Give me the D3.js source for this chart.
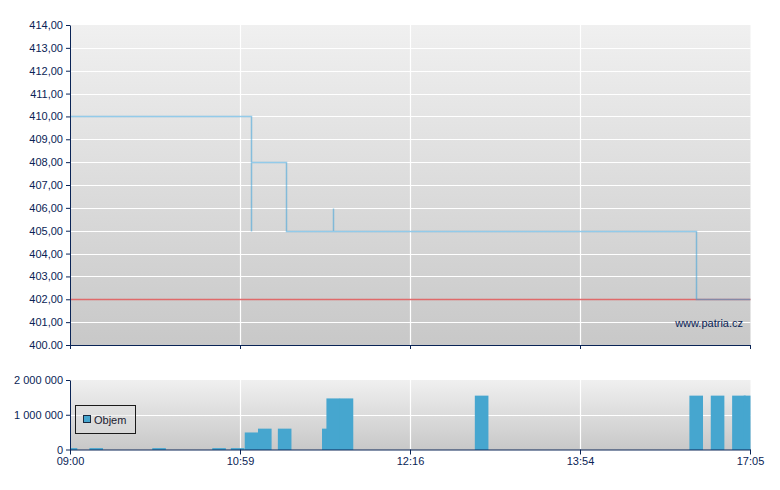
<!DOCTYPE html>
<html><head><meta charset="utf-8">
<script src="https://cdn.jsdelivr.net/npm/d3@7"></script>
<style>
body{margin:0;background:#fff;}
svg{display:block;font-family:"Liberation Sans",Arial,sans-serif;}
</style>
</head><body>
<svg id="chart" width="780" height="490"></svg>
<script>
// ---- data ----
const timeTicks = ["09:00", "10:59", "12:16", "13:54", "17:05"];
const priceTicks = [400, 401, 402, 403, 404, 405, 406, 407, 408, 409, 410, 411, 412, 413, 414];
const priceTickLabels = ["400.00", "401,00", "402,00", "403,00", "404,00", "405,00", "406,00", "407,00",
  "408,00", "409,00", "410,00", "411,00", "412,00", "413,00", "414,00"];
const priceTimes = ["09:00", "11:04", "11:04", "11:20", "11:41", "11:41", "16:04", "17:05"];
const priceValues = [410, 405, 408, 405, 406, 405, 402, 402];
const prevClose = 402;
const volumeTimes = ["09:00", "09:18", "10:02", "10:44", "10:57", "11:04", "11:10", "11:19", "11:39", "11:41",
  "11:47", "12:57", "16:04", "16:28", "16:52", "17:05"];
const volumeValues = [40000, 40000, 40000, 40000, 40000, 490000, 600000, 600000, 600000, 1470000,
  1470000, 1550000, 1550000, 1550000, 1550000, 1550000];
const volumeTicks = [0, 1000000, 2000000];
const volumeTickLabels = ["0", "1 000 000", "2 000 000"];
const legendLabel = "Objem";
const watermark = "www.patria.cz";

// ---- layout ----
const navy = "#0a2456";
const left = 70, right = 750;
const top1 = 25, bot1 = 345;
const top2 = 380, bot2 = 449.5;
const barColor = "#46a6cf";

const toMin = s => (+s.slice(0, 2)) * 60 + (+s.slice(3, 5));
const svg = d3.select("#chart");

const x = d3.scaleLinear()
  .domain(timeTicks.map(toMin))
  .range(timeTicks.map((d, i) => left + i * (right - left) / (timeTicks.length - 1)));
const yP = d3.scaleLinear().domain([400, 414]).range([bot1, top1]);
const yV = d3.scaleLinear().domain([0, 2000000]).range([bot2, top2]);

// gradients
const defs = svg.append("defs");
function grad(id) {
  const g = defs.append("linearGradient").attr("id", id).attr("x1", 0).attr("y1", 0).attr("x2", 0).attr("y2", 1);
  g.append("stop").attr("offset", "0%").attr("stop-color", "#f0f0f0");
  g.append("stop").attr("offset", "100%").attr("stop-color", "#c8c8c8");
}
grad("g1"); grad("g2");
defs.append("clipPath").attr("id", "clip1").append("rect")
  .attr("x", left + 0.5).attr("y", top1).attr("width", right - left).attr("height", bot1 - top1 + 1);
defs.append("clipPath").attr("id", "clip2").append("rect")
  .attr("x", left + 0.5).attr("y", top2).attr("width", right - left).attr("height", bot2 - top2 + 1);

// backgrounds
svg.append("rect").attr("x", left).attr("y", top1).attr("width", right - left + 0.5).attr("height", bot1 - top1 + 0.5).attr("fill", "url(#g1)");
svg.append("rect").attr("x", left).attr("y", top2).attr("width", right - left + 0.5).attr("height", bot2 - top2 + 0.5).attr("fill", "url(#g2)");

// grid lines
const grid = svg.append("g").attr("stroke", "#ffffff").attr("stroke-width", 1.2);
priceTicks.filter(v => v > 400 && v < 414 && v !== prevClose).forEach(v => {
  grid.append("line").attr("x1", left).attr("x2", right + 0.5)
    .attr("y1", Math.round(yP(v)) + 0.5).attr("y2", Math.round(yP(v)) + 0.5);
});
volumeTicks.filter(v => v > 0 && v < 2000000).forEach(v => {
  grid.append("line").attr("x1", left).attr("x2", right + 0.5)
    .attr("y1", Math.round(yV(v)) + 0.5).attr("y2", Math.round(yV(v)) + 0.5);
});
timeTicks.slice(1, -1).forEach(t => {
  const xx = x(toMin(t)) + 0.5;
  grid.append("line").attr("x1", xx).attr("x2", xx).attr("y1", top1).attr("y2", bot1);
  grid.append("line").attr("x1", xx).attr("x2", xx).attr("y1", top2).attr("y2", bot2);
});

// previous close reference
svg.append("line").attr("x1", left).attr("x2", right + 0.5)
  .attr("y1", Math.round(yP(prevClose)) + 0.5).attr("y2", Math.round(yP(prevClose)) + 0.5)
  .attr("stroke", "#e06a6a").attr("stroke-width", 1.4);

// price line
const priceData = priceTimes.map((t, i) => ({ t: toMin(t), v: priceValues[i] }));
svg.append("path").datum(priceData)
  .attr("clip-path", "url(#clip1)")
  .attr("fill", "none").attr("stroke", "#3aa0d8").attr("stroke-opacity", 0.55).attr("stroke-width", 1.5)
  .attr("d", d3.line().curve(d3.curveStepAfter).x(d => Math.round(x(d.t)) + 0.5).y(d => Math.round(yP(d.v)) + 0.5));

// volume bars
const volData = volumeTimes.map((t, i) => ({ t: toMin(t), v: volumeValues[i] }));
svg.append("g").attr("clip-path", "url(#clip2)")
  .selectAll("rect").data(volData).join("rect")
  .attr("x", d => x(d.t) - 6.3)
  .attr("width", 13.6)
  .attr("y", d => yV(d.v))
  .attr("height", d => bot2 - yV(d.v) + 0.5)
  .attr("fill", barColor);

// axes
function styleAxis(g) {
  g.selectAll("path, line").attr("stroke", navy);
  g.selectAll("text").attr("fill", navy).style("font-size", "11px").style("font-family", '"Liberation Sans", Arial, sans-serif');
}
svg.append("g").attr("transform", `translate(${left},0)`)
  .call(d3.axisLeft(yP).tickValues(priceTicks).tickFormat((d, i) => priceTickLabels[i]).tickSize(4).tickSizeOuter(0).tickPadding(3))
  .call(styleAxis);
svg.append("g").attr("transform", `translate(0,${bot1})`)
  .call(d3.axisBottom(x).tickValues(timeTicks.map(toMin)).tickFormat("").tickSize(4).tickSizeOuter(0))
  .call(styleAxis);
svg.append("g").attr("transform", `translate(${left},0)`)
  .call(d3.axisLeft(yV).tickValues(volumeTicks).tickFormat((d, i) => volumeTickLabels[i]).tickSize(4).tickSizeOuter(0).tickPadding(3))
  .call(styleAxis);
svg.append("g").attr("transform", `translate(0,${bot2})`)
  .call(d3.axisBottom(x).tickValues(timeTicks.map(toMin)).tickFormat((d, i) => timeTicks[i]).tickSize(5).tickSizeOuter(0).tickPadding(3))
  .call(styleAxis);

// watermark
svg.append("text").attr("x", 743).attr("y", 327).attr("text-anchor", "end")
  .attr("fill", navy).style("font-size", "11px").text(watermark);

// legend
const lg = svg.append("g");
lg.append("rect").attr("x", 75.5).attr("y", 405.5).attr("width", 60).attr("height", 28)
  .attr("fill", "#e2e2e2").attr("fill-opacity", 0.4).attr("stroke", "#1a1a1a").attr("stroke-width", 1);
lg.append("rect").attr("x", 83.5).attr("y", 415.5).attr("width", 7).attr("height", 7)
  .attr("fill", barColor).attr("stroke", "#1a2a40").attr("stroke-width", 1);
lg.append("text").attr("x", 94).attr("y", 424).attr("fill", "#1a1a30").style("font-size", "11px").text(legendLabel);
</script>
</body></html>
